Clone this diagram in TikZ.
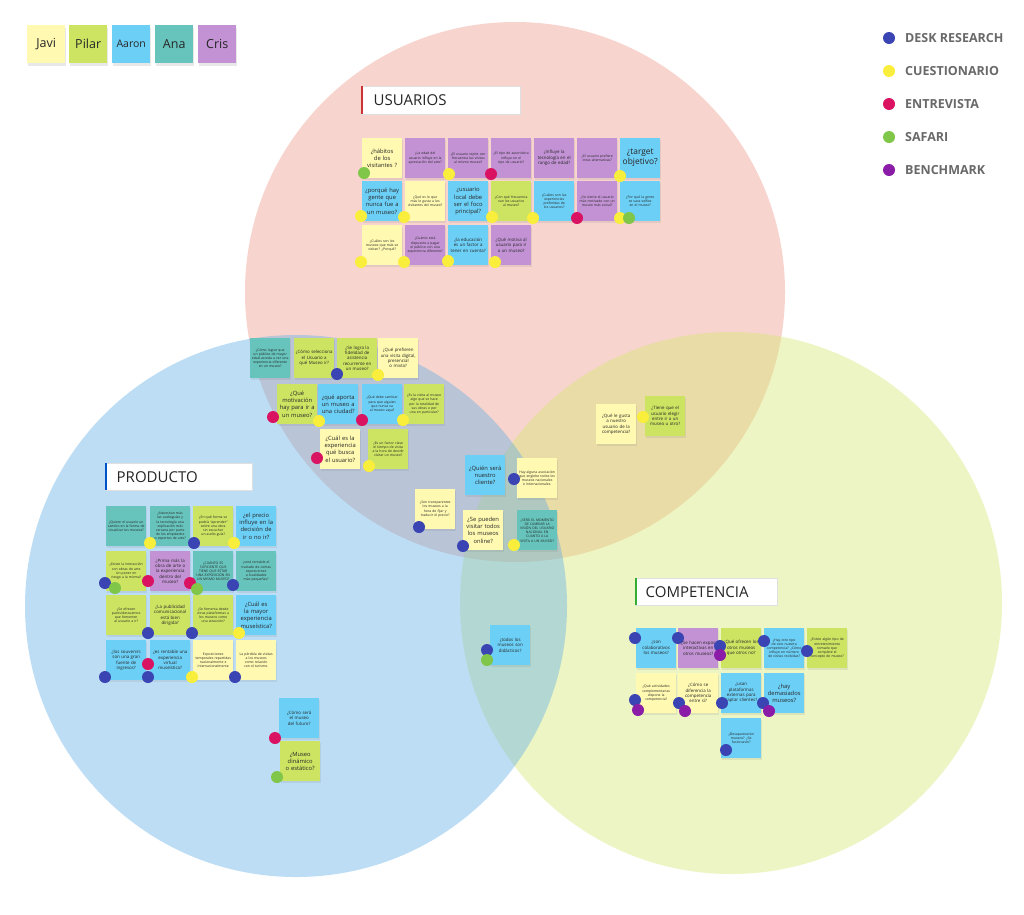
\documentclass[tikz,border=0pt]{standalone}
\usepackage{fontspec}
\setmainfont{Open Sans}
\usetikzlibrary{shadows}
\definecolor{nyel}{RGB}{255,249,177}
\definecolor{ngrn}{RGB}{205,227,98}
\definecolor{nblu}{RGB}{108,207,246}
\definecolor{ntea}{RGB}{103,196,188}
\definecolor{npur}{RGB}{194,146,212}
\definecolor{dblu}{RGB}{58,68,178}
\definecolor{dyel}{RGB}{250,238,60}
\definecolor{dred}{RGB}{218,18,98}
\definecolor{dgrn}{RGB}{128,198,72}
\definecolor{dpur}{RGB}{138,28,168}
\definecolor{cred}{RGB}{237,148,130}
\definecolor{cblu}{RGB}{92,172,232}
\definecolor{cgrn}{RGB}{212,232,108}
\definecolor{lgray}{RGB}{105,105,105}
\hyphenpenalty=10000
\exhyphenpenalty=10000
\newcommand{\szA}{\fontsize{8.4}{10}\selectfont}
\newcommand{\szB}{\fontsize{5.8}{7.1}\selectfont}
\newcommand{\szC}{\fontsize{4.4}{5.4}\selectfont}
\newcommand{\szD}{\fontsize{3.4}{4.1}\selectfont}
\newcommand{\stk}[6]{\node[stk,fill=#4,font=#5] (#1) at (#2,#3) {#6};}
\newcommand{\dotat}[3]{\fill[#1] (#2,#3) circle (6pt);}
\begin{document}
\begin{tikzpicture}[x=1pt,y=-1pt,
  stk/.style={anchor=north west,minimum width=40pt,minimum height=40pt,text width=37pt,inner sep=1.5pt,align=center,text=black!85,
    drop shadow={shadow xshift=0.3pt,shadow yshift=-2pt,opacity=0.15}},
  leg/.style={anchor=north west,minimum width=38pt,minimum height=38pt,inner sep=0pt,font=\fontsize{12.5}{14}\selectfont,text=black!85,
    drop shadow={shadow xshift=0.3pt,shadow yshift=-2.5pt,opacity=0.18}},
  tbox/.style={anchor=north west,fill=white,draw=black!12,line width=0.4pt,inner sep=0pt,align=left,font=\fontsize{15}{17}\selectfont,text=black!85,
    drop shadow={shadow xshift=0pt,shadow yshift=-1pt,opacity=0.1}},
  ltxt/.style={anchor=west,inner sep=0pt,font=\bfseries\fontsize{12.5}{14}\selectfont,text=lgray}]
\useasboundingbox (0,0) rectangle (1024,914);
\fill[white] (0,0) rectangle (1024,914);
% circles
\fill[cred,fill opacity=0.4] (515,292) circle (270pt);
\fill[cgrn,fill opacity=0.4] (731,603) circle (271pt);
\fill[cblu,fill opacity=0.4] (296,606) circle (271pt);
% legend top-left
\node[leg,fill=nyel] (lj) at (27,25) {Javi};
\node[leg,fill=ngrn] (lp) at (69,25) {Pilar};
\node[leg,fill=nblu] (la) at (112,25) {\fontsize{10.5}{12}\selectfont Aaron};
\node[leg,fill=ntea] (lan) at (155,25) {Ana};
\node[leg,fill=npur] (lc) at (198,25) {Cris};
% legend right
\dotat{dblu}{889}{38}
\dotat{dyel}{889}{71}
\dotat{dred}{889}{104}
\dotat{dgrn}{889}{137}
\dotat{dpur}{889}{170}
\node[ltxt] (t1) at (905,38) {DESK RESEARCH};
\node[ltxt] (t2) at (905,71) {CUESTIONARIO};
\node[ltxt] (t3) at (905,104) {ENTREVISTA};
\node[ltxt] (t4) at (905,137) {SAFARI};
\node[ltxt] (t5) at (905,170) {BENCHMARK};
% title boxes
\node[tbox,minimum width=159pt,minimum height=28pt,text width=150pt] (tu) at (361,86) {\hspace*{8pt}USUARIOS};
\draw[line width=2pt,red!75!black!80] ([xshift=1pt]tu.north west) -- ([xshift=1pt]tu.south west);
\node[tbox,minimum width=147pt,minimum height=27pt,text width=140pt] (tp) at (105,463) {\hspace*{8pt}PRODUCTO};
\draw[line width=2pt,blue!60!cyan!80!black] ([xshift=1pt]tp.north west) -- ([xshift=1pt]tp.south west);
\node[tbox,minimum width=142pt,minimum height=27pt,text width=135pt] (tc) at (635,578) {\hspace*{7pt}COMPETENCIA};
\draw[line width=2pt,green!60!black!80] ([xshift=1pt]tc.north west) -- ([xshift=1pt]tc.south west);
% ===== USUARIOS notes
\stk{u11}{362}{138}{nyel}{\szB}{¿hábitos de los visitantes ?}
\stk{u12}{405}{138}{npur}{\szD}{¿La edad del usuario influye en la apreciación del arte?}
\stk{u13}{448}{138}{npur}{\szD}{¿El usuario repite con frecuencia las visitas al mismo museo?}
\stk{u14}{491}{138}{npur}{\szD}{¿El tipo de autor/obra influye en el tipo de usuario?}
\stk{u15}{534}{138}{npur}{\szC}{¿Influye la tecnología en el rango de edad?}
\stk{u16}{577}{138}{npur}{\szD}{¿El usuario prefiere otras alternativas?}
\stk{u17}{620}{138}{nblu}{\szA}{¿target objetivo?}
\stk{u21}{362}{181}{nblu}{\szB}{¿porqué hay gente que nunca fue a un museo?}
\stk{u22}{405}{181}{nyel}{\szD}{¿Qué es lo que más le gusta a los visitantes del museo?}
\stk{u23}{448}{181}{nblu}{\szB}{¿usuario local debe ser el foco principal?}
\stk{u24}{491}{181}{ngrn}{\szD}{¿Con qué frecuencia van los usuarios al museo?}
\stk{u25}{534}{181}{nblu}{\szD}{¿Cuáles son las experiencias preferidas de los usuarios?}
\stk{u26}{577}{181}{npur}{\szD}{¿Se siente el usuario más motivado con un museo más social?}
\stk{u27}{620}{181}{nblu}{\szD}{¿Por qué la gente se saca selfies en el museo?}
\stk{u31}{362}{225}{nyel}{\szD}{¿Cuáles son los museos que más se visitan? ¿Porqué?}
\stk{u32}{405}{225}{npur}{\szD}{¿Cuánto está dispuesto a pagar el público con una experiencia diferente?}
\stk{u33}{448}{225}{nblu}{\szC}{¿la educación es un factor a tener en cuenta?}
\stk{u34}{491}{225}{npur}{\szC}{¿Qué motiva al usuario para ir a un museo?}
% ===== centre notes
\stk{c1}{250}{338}{ntea}{\szD}{¿Cómo lograr que un público de mayor edad acceda a ver una experiencia diferente en un museo?}
\stk{c2}{294}{338}{ngrn}{\szC}{¿Cómo selecciona el Usuario a qué Museo ir?}
\stk{c3}{337}{338}{ngrn}{\szC}{¿Se logra la fidelidad de asistencia recurrente en un museo?}
\stk{c4}{378}{338}{nyel}{\szC}{¿Qué prefieren una visita digital, presencial o mixta?}
\stk{c5}{277}{384}{ngrn}{\szB}{¿Qué motivación hay para ir a un museo?}
\stk{c6}{318}{384}{nblu}{\szB}{¿qué aporta un museo a una ciudad?}
\stk{c7}{362}{384}{nblu}{\szD}{¿Qué debe cambiar para que alguien que nunca va al museo vaya?}
\stk{c8}{404}{384}{ngrn}{\szD}{¿Es la visita al museo algo que se hace por la totalidad de sus obras o por una en particular?}
\stk{c9}{320}{429}{nyel}{\szB}{¿Cuál es la experiencia qué busca el usuario?}
\stk{c10}{368}{429}{ngrn}{\szD}{¿Es un factor clave el tiempo de visita a la hora de decidir visitar un museo?}
\stk{c11}{465}{455}{nblu}{\szB}{¿Quién será nuestro cliente?}
\stk{c12}{517}{458}{nyel}{\szD}{Hay alguna asociación que englobe todos los museos nacionales e internacionales.}
\stk{c13}{415}{489}{nyel}{\szD}{¿Son transparentes los museos a la hora de fijar y traducir el precio?}
\stk{c14}{463}{510}{nyel}{\szB}{¿Se pueden visitar todos los museos online?}
\stk{c15}{517}{510}{ntea}{\szD}{¿SERÁ EL MOMENTO DE CAMBIAR LA VISIÓN DEL USUARIO NACIONAL EN CUANTO A LA VISITA A UN MUSEO?}
\stk{c16}{596}{404}{nyel}{\szC}{¿Qué le gusta a nuestro usuario de la competencia?}
\stk{c17}{645}{396}{ngrn}{\szC}{¿Tiene que el usuario elegir entre ir a un museo u otro?}
\stk{c18}{490}{625}{nblu}{\szC}{¿todos los museos son didácticos?}
% ===== PRODUCTO notes
\stk{p11}{106}{506}{ntea}{\szD}{¿Quiere el usuario un cambio en la forma de visualizar los museos?}
\stk{p12}{150}{506}{ntea}{\szD}{¿Necesitan más las audioguías y la tecnología una explicación más cercana por parte de los empleados o expertos de arte?}
\stk{p13}{193}{506}{ngrn}{\szD}{¿En qué forma se podría “aprender” sobre una obra sin escuchar un audio-guía?}
\stk{p14}{236}{506}{nblu}{\szB}{¿el precio influye en la decisión de ir o no ir?}
\stk{p21}{106}{551}{ngrn}{\szD}{¿Existe la interacción con obras de arte sin poner en riesgo a la misma?}
\stk{p22}{150}{551}{npur}{\szC}{¿Prima más la obra de arte o la experiencia dentro del museo?}
\stk{p23}{193}{551}{ntea}{\szD}{¿CUÁNTO ES SUFICIENTE QUE TIENE QUE ESTAR UNA EXPOSICIÓN EN UN MISMO MUSEO?}
\stk{p24}{236}{551}{ntea}{\szD}{¿será rentable el traslado de ciertas exposiciones a localidades más pequeñas?}
\stk{p31}{106}{595}{ngrn}{\szD}{¿Se ofrecen packs/descuentos que fomenten al usuario a ir?}
\stk{p32}{150}{595}{ngrn}{\szC}{¿La publicidad comunicacional está bien dirigida?}
\stk{p33}{193}{595}{ngrn}{\szD}{¿Se fomenta desde otras plataformas a los museos como una atracción?}
\stk{p34}{236}{595}{nblu}{\szB}{¿Cuál es la mayor experiencia museística?}
\stk{p41}{106}{640}{nblu}{\szC}{¿los souvenirs son una gran fuente de ingresos?}
\stk{p42}{150}{640}{nblu}{\szC}{¿es rentable una experiencia virtual museística?}
\stk{p43}{193}{640}{nyel}{\szD}{Exposiciones temporales repartidas nacionalmente e internacionalmente}
\stk{p44}{236}{640}{nyel}{\szD}{La pérdida de visitas a los museos como relación con el turismo.}
\stk{p51}{279}{698}{nblu}{\szC}{¿Cómo será el museo del futuro?}
\stk{p52}{280}{741}{ngrn}{\szB}{¿Museo dinámico o estático?}
% ===== COMPETENCIA notes
\stk{k11}{636}{628}{nblu}{\szC}{¿son colaborativos los museos?}
\stk{k12}{678}{628}{npur}{\szC}{¿Se hacen expos interactivas en otros museos?}
\stk{k13}{721}{628}{ngrn}{\szC}{¿Qué ofrecen los otros museos que otros no?}
\stk{k14}{764}{628}{nblu}{\szD}{¿Hay otro tipo de ocio nuestra competencia? ¿Cómo influye en número de visitas recibidas?}
\stk{k15}{807}{628}{ngrn}{\szD}{¿Existe algún tipo de entretenimiento tomado que complete el concepto de museo?}
\stk{k21}{636}{673}{nyel}{\szD}{¿Qué actividades complementarias dispone la competencia?}
\stk{k22}{678}{673}{nyel}{\szC}{¿Cómo se diferencia la competencia entre sí?}
\stk{k23}{721}{673}{nblu}{\szC}{¿usan plataformas externas para captar clientes?}
\stk{k24}{764}{673}{nblu}{\szB}{¿hay demasiados museos?}
\stk{k31}{721}{718}{nblu}{\szD}{¿Desaparecerán museos? ¿Se fusionarán?}
% ===== dots
\dotat{dgrn}{364}{173}
\dotat{dyel}{449}{174}
\dotat{dred}{491}{174}
\dotat{dyel}{620}{176}
\dotat{dyel}{361}{216}
\dotat{dyel}{404}{217}
\dotat{dyel}{492}{217}
\dotat{dyel}{533}{218}
\dotat{dred}{577}{218}
\dotat{dyel}{620}{218}
\dotat{dgrn}{629}{218}
\dotat{dyel}{361}{262}
\dotat{dyel}{404}{262}
\dotat{dyel}{448}{261}
\dotat{dyel}{495}{262}
\dotat{dblu}{337}{374}
\dotat{dyel}{378}{375}
\dotat{dred}{273}{417}
\dotat{dyel}{319}{421}
\dotat{dred}{362}{420}
\dotat{dyel}{403}{420}
\dotat{dred}{317}{458}
\dotat{dyel}{369}{466}
\dotat{dblu}{514}{479}
\dotat{dblu}{419}{527}
\dotat{dblu}{463}{546}
\dotat{dyel}{514}{545}
\dotat{dyel}{643}{417}
\dotat{dblu}{487}{650}
\dotat{dgrn}{487}{660}
\dotat{dyel}{150}{543}
\dotat{dblu}{194}{543}
\dotat{dyel}{234}{543}
\dotat{dblu}{105}{583}
\dotat{dgrn}{115}{588}
\dotat{dred}{148}{581}
\dotat{dred}{190}{583}
\dotat{dgrn}{197}{589}
\dotat{dblu}{233}{585}
\dotat{dblu}{148}{633}
\dotat{dblu}{192}{633}
\dotat{dyel}{239}{633}
\dotat{dblu}{105}{677}
\dotat{dred}{148}{664}
\dotat{dblu}{148}{677}
\dotat{dyel}{192}{677}
\dotat{dblu}{235}{677}
\dotat{dred}{275}{738}
\dotat{dgrn}{277}{777}
\dotat{dblu}{635}{638}
\dotat{dblu}{678}{638}
\dotat{dblu}{720}{646}
\dotat{dpur}{720}{655}
\dotat{dblu}{764}{641}
\dotat{dblu}{807}{651}
\dotat{dblu}{635}{700}
\dotat{dpur}{638}{710}
\dotat{dblu}{679}{703}
\dotat{dpur}{685}{711}
\dotat{dblu}{722}{703}
\dotat{dblu}{763}{703}
\dotat{dpur}{769}{711}
\dotat{dblu}{726}{750}
\end{tikzpicture}
\end{document}
